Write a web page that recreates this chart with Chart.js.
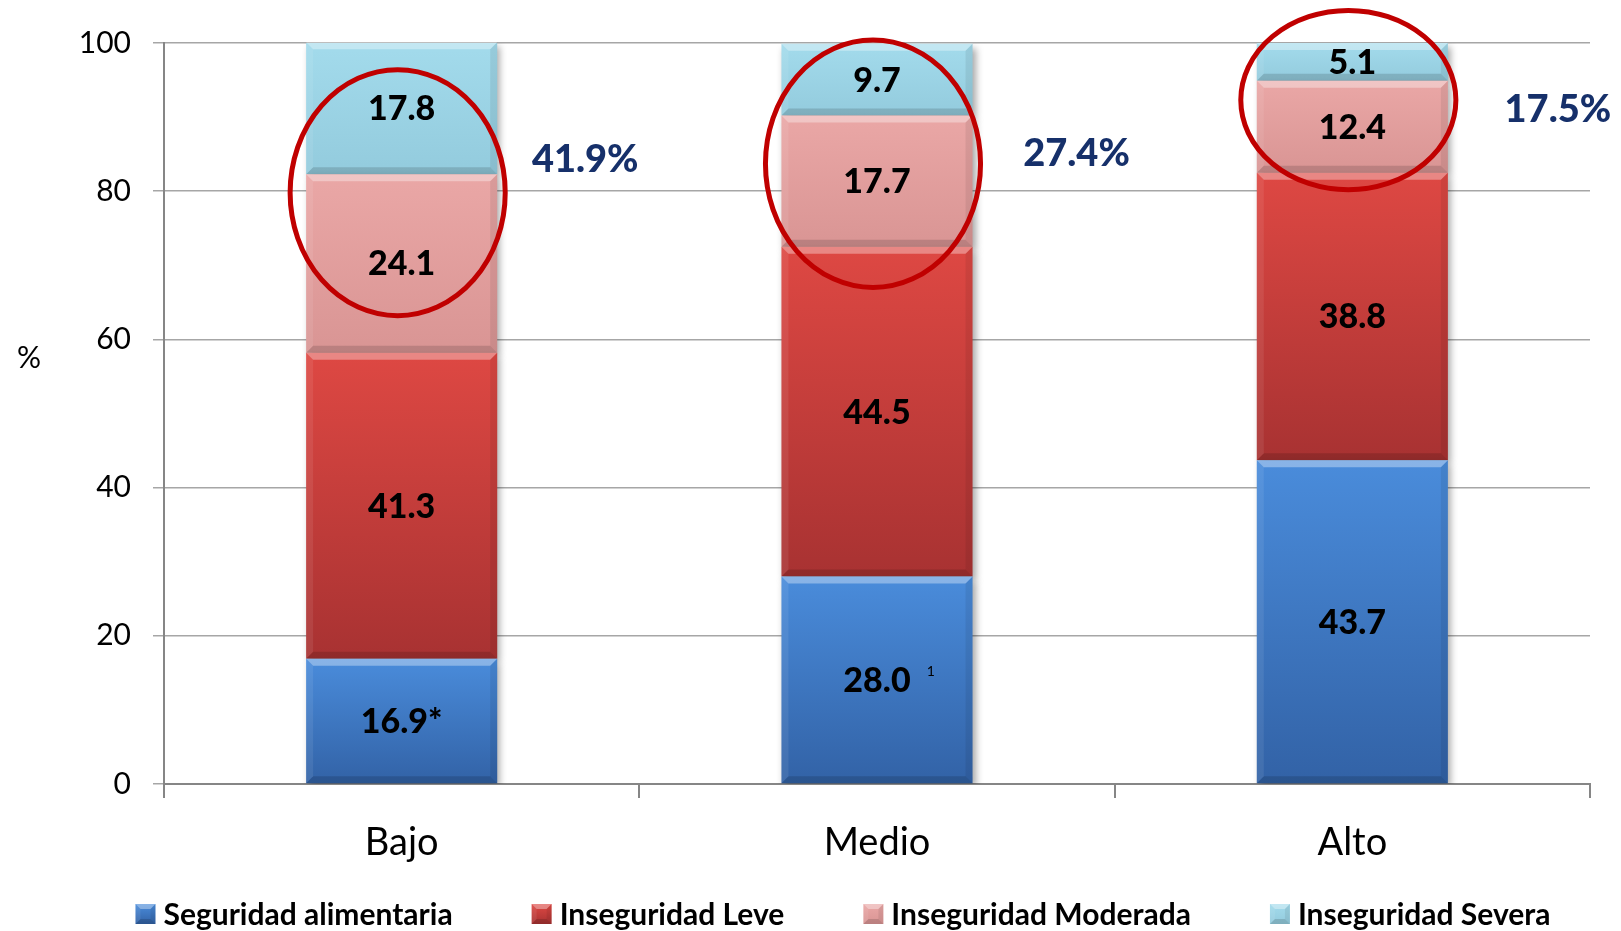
<!DOCTYPE html>
<html>
<head>
<meta charset="utf-8">
<script src="https://cdn.jsdelivr.net/npm/chart.js@4.4.1/dist/chart.umd.min.js"></script>
<style>
    html, body { margin: 0; padding: 0; background: #ffffff; }
    #wrap { width: 1621px; height: 931px; }
</style>
</head>
<body>
<div id="wrap"><canvas id="chart"></canvas></div>
<script>
// Datos del gráfico
const categories = ['Bajo', 'Medio', 'Alto'];
const seriesNames = ['Seguridad alimentaria', 'Inseguridad Leve', 'Inseguridad Moderada', 'Inseguridad Severa'];
const seguridad = [16.9, 28.0, 43.7];
const leve = [41.3, 44.5, 38.8];
const moderada = [24.1, 17.7, 12.4];
const severa = [17.8, 9.7, 5.1];
const yTicks = [0, 20, 40, 60, 80, 100];
const inlineMarks = ['*', '', ''];
const superMarks = ['', '1', ''];

// Anotaciones (círculos rojos y totales moderada + severa), en unidades del eje Y
const circleMid = [79.8, 83.7, 92.3];
const circleRy = [16.6, 16.7, 12.1];
const totalLabelY = [84.3, 85.0, 91.0];
const totalLabelDx = [88, 104, 110];

const seriesData = [seguridad, leve, moderada, severa];
const gradColors = [
    ['#4a8cdb', '#3262a6'],
    ['#de4843', '#a83232'],
    ['#eaa7a6', '#d99594'],
    ['#a3dbec', '#93cbdd']
];
const FONT = 'Lato, "Open Sans", sans-serif';

function segmentGradient(context, d) {
    const chart = context.chart;
    const colors = gradColors[d];
    if (!chart.chartArea || context.type !== 'data') return colors[0];
    const i = context.dataIndex;
    let base = 0;
    for (let k = 0; k < d; k++) base += seriesData[k][i];
    const top = base + seriesData[d][i];
    const y0 = chart.scales.y.getPixelForValue(top);
    const y1 = chart.scales.y.getPixelForValue(base);
    const g = chart.ctx.createLinearGradient(0, y0, 0, y1);
    g.addColorStop(0, colors[0]);
    g.addColorStop(1, colors[1]);
    return g;
}

function bevel(ctx, l, t, r, b, bv) {
    ctx.save();
    ctx.fillStyle = 'rgba(255,255,255,0.35)';
    ctx.beginPath();
    ctx.moveTo(l, t); ctx.lineTo(r, t); ctx.lineTo(r - bv, t + bv); ctx.lineTo(l + bv, t + bv);
    ctx.closePath(); ctx.fill();
    ctx.fillStyle = 'rgba(0,0,0,0.14)';
    ctx.beginPath();
    ctx.moveTo(l, b); ctx.lineTo(r, b); ctx.lineTo(r - bv, b - bv); ctx.lineTo(l + bv, b - bv);
    ctx.closePath(); ctx.fill();
    ctx.fillStyle = 'rgba(0,0,0,0.07)';
    ctx.beginPath();
    ctx.moveTo(r, t); ctx.lineTo(r, b); ctx.lineTo(r - bv, b - bv); ctx.lineTo(r - bv, t + bv);
    ctx.closePath(); ctx.fill();
    ctx.fillStyle = 'rgba(255,255,255,0.08)';
    ctx.beginPath();
    ctx.moveTo(l, t); ctx.lineTo(l, b); ctx.lineTo(l + bv, b - bv); ctx.lineTo(l + bv, t + bv);
    ctx.closePath(); ctx.fill();
    ctx.restore();
}

const decorPlugin = {
    id: 'decor',
    beforeDatasetsDraw(chart) {
        const ctx = chart.ctx;
        ctx.save();
        ctx.shadowColor = 'rgba(0,0,0,0.35)';
        ctx.shadowBlur = 7;
        ctx.shadowOffsetX = 3;
        ctx.shadowOffsetY = 4;
    },
    afterDatasetsDraw(chart) {
        const ctx = chart.ctx;
        ctx.restore();
        const yScale = chart.scales.y;

        // biseles de las barras
        chart.data.datasets.forEach((ds, d) => {
            chart.getDatasetMeta(d).data.forEach((el) => {
                bevel(ctx, el.x - el.width / 2, el.y, el.x + el.width / 2, el.base, 7);
            });
        });

        // valores dentro de las barras
        ctx.save();
        ctx.textAlign = 'center';
        ctx.textBaseline = 'middle';
        ctx.fillStyle = '#000000';
        chart.data.datasets.forEach((ds, d) => {
            chart.getDatasetMeta(d).data.forEach((el, i) => {
                const cy = (el.y + el.base) / 2;
                let txt = seriesData[d][i].toFixed(1);
                if (d === 0) txt += inlineMarks[i];
                ctx.font = '900 34px ' + FONT;
                ctx.fillText(txt, el.x, cy + 1);
                if (d === 0 && superMarks[i]) {
                    const w = ctx.measureText(txt).width;
                    ctx.font = '14px ' + FONT;
                    ctx.textAlign = 'left';
                    ctx.fillText(superMarks[i], el.x + w / 2 + 16, cy - 8);
                    ctx.textAlign = 'center';
                }
            });
        });
        ctx.restore();

        // círculos rojos y totales
        const meta = chart.getDatasetMeta(3);
        ctx.save();
        meta.data.forEach((el, i) => {
            const cy = yScale.getPixelForValue(circleMid[i]);
            const ry = Math.abs(yScale.getPixelForValue(circleMid[i] + circleRy[i]) - cy);
            const rx = el.width / 2 + 12;
            ctx.strokeStyle = '#c00000';
            ctx.lineWidth = 5;
            ctx.beginPath();
            ctx.ellipse(el.x - 4, cy, rx, ry, 0, 0, Math.PI * 2);
            ctx.stroke();

            const total = (moderada[i] + severa[i]).toFixed(1) + '%';
            ctx.font = '900 38px ' + FONT;
            ctx.fillStyle = '#16306a';
            ctx.textAlign = 'center';
            ctx.textBaseline = 'middle';
            ctx.fillText(total, el.x + el.width / 2 + totalLabelDx[i], yScale.getPixelForValue(totalLabelY[i]));
        });

        // título del eje Y
        ctx.font = '30px ' + FONT;
        ctx.fillStyle = '#000000';
        ctx.textAlign = 'center';
        ctx.fillText('%', 29, yScale.getPixelForValue(57.4));
        ctx.restore();
    },
    afterDraw(chart) {
        // leyenda inferior
        const ctx = chart.ctx;
        const box = 20, gapText = 8, gapItem = 79, cy = 914;
        ctx.save();
        ctx.font = 'bold 30px ' + FONT;
        ctx.textBaseline = 'middle';
        ctx.textAlign = 'left';
        const widths = seriesNames.map(n => box + gapText + ctx.measureText(n).width);
        const total = widths.reduce((a, b) => a + b, 0) + gapItem * (seriesNames.length - 1);
        let x = 843 - total / 2;
        seriesNames.forEach((name, d) => {
            const g = ctx.createLinearGradient(0, cy - box / 2, 0, cy + box / 2);
            g.addColorStop(0, gradColors[d][0]);
            g.addColorStop(1, gradColors[d][1]);
            ctx.fillStyle = g;
            ctx.fillRect(x, cy - box / 2, box, box);
            bevel(ctx, x, cy - box / 2, x + box, cy + box / 2, 5);
            ctx.fillStyle = '#000000';
            ctx.fillText(name, x + box + gapText, cy + 1);
            x += widths[d] + gapItem;
        });
        ctx.restore();
    }
};

const datasets = seriesNames.map((name, d) => ({
    label: name,
    data: seriesData[d],
    backgroundColor: (c) => segmentGradient(c, d),
    borderWidth: 0,
    categoryPercentage: 1.0,
    barPercentage: 0.402
}));

new Chart(document.getElementById('chart').getContext('2d'), {
    type: 'bar',
    data: { labels: categories, datasets: datasets },
    options: {
        responsive: true,
        maintainAspectRatio: false,
        animation: false,
        layout: { padding: { left: 0, right: 31, top: 43, bottom: 67 } },
        plugins: {
            tooltip: { enabled: false },
            legend: { display: false }
        },
        scales: {
            x: {
                stacked: true,
                afterFit: (s) => { s.height = 80; },
                grid: { offset: true, drawOnChartArea: false, tickLength: 14, color: '#868686', lineWidth: 2 },
                border: { color: '#868686', width: 2 },
                ticks: { color: '#000000', padding: 22, font: { family: FONT, size: 38 } }
            },
            y: {
                stacked: true,
                min: 0,
                max: 100,
                afterFit: (s) => { s.width = 164; },
                afterBuildTicks: (s) => { s.ticks = yTicks.map(v => ({ value: v })); },
                grid: { color: '#a6a6a6', lineWidth: 1.5, tickLength: 11 },
                border: { color: '#868686', width: 2 },
                ticks: { color: '#000000', padding: 22, font: { family: FONT, size: 30 } }
            }
        }
    },
    plugins: [decorPlugin]
});
</script>
</body>
</html>
